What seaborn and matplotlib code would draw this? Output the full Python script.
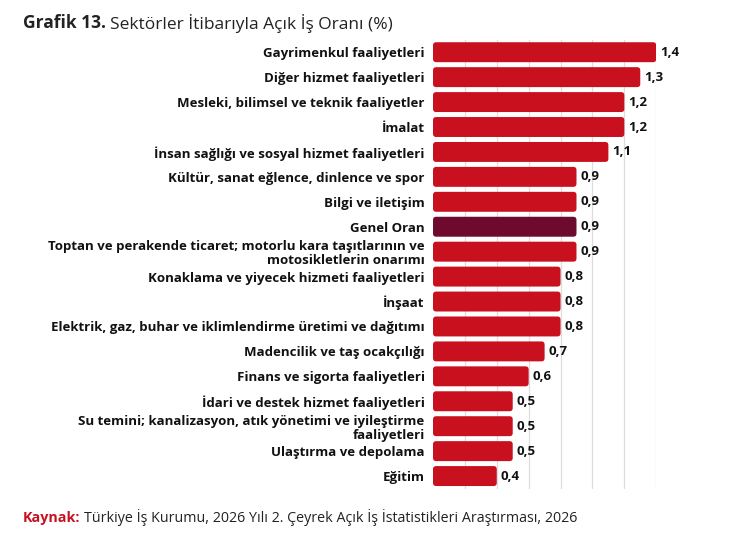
import numpy as np
import matplotlib
matplotlib.use("Agg")
import matplotlib.pyplot as plt
from matplotlib.patches import FancyBboxPatch
import seaborn as sns
import pandas as pd

sectors = [
    "Gayrimenkul faaliyetleri",
    "Diğer hizmet faaliyetleri",
    "Mesleki, bilimsel ve teknik faaliyetler",
    "İmalat",
    "İnsan sağlığı ve sosyal hizmet faaliyetleri",
    "Kültür, sanat eğlence, dinlence ve spor",
    "Bilgi ve iletişim",
    "Genel Oran",
    "Toptan ve perakende ticaret; motorlu kara taşıtlarının ve\nmotosikletlerin onarımı",
    "Konaklama ve yiyecek hizmeti faaliyetleri",
    "İnşaat",
    "Elektrik, gaz, buhar ve iklimlendirme üretimi ve dağıtımı",
    "Madencilik ve taş ocakçılığı",
    "Finans ve sigorta faaliyetleri",
    "İdari ve destek hizmet faaliyetleri",
    "Su temini; kanalizasyon, atık yönetimi ve iyileştirme\nfaaliyetleri",
    "Ulaştırma ve depolama",
    "Eğitim",
]
rates = [1.4, 1.3, 1.2, 1.2, 1.1, 0.9, 0.9, 0.9, 0.9, 0.8, 0.8, 0.8, 0.7, 0.6, 0.5, 0.5, 0.5, 0.4]

RED = "#C8101E"
DARK = "#6E0A2E"
FONT = ["Open Sans", "DejaVu Sans"]

df = pd.DataFrame({"sector": sectors, "rate": rates})
palette = {s: (DARK if s == "Genel Oran" else RED) for s in sectors}

sns.set_style("white")
plt.rcParams["font.family"] = FONT

fig = plt.figure(figsize=(7.44, 5.52), dpi=100)
ax = fig.add_axes([0.582, 0.115, 0.300, 0.813])

sns.barplot(data=df, y="sector", x="rate", hue="sector", palette=palette,
            dodge=False, legend=False, width=0.8, saturation=1, linewidth=0,
            ax=ax, zorder=3)

ax.set_xlim(0, 1.4)
ax.set_xticks(np.arange(0.2, 1.41, 0.2))
ax.xaxis.grid(True, color="#DDDDDD", linewidth=0.9, zorder=0)
ax.set_axisbelow(True)
ax.tick_params(axis="x", length=0, labelbottom=False)
ax.tick_params(axis="y", length=0, pad=6)
for s in ax.spines.values():
    s.set_visible(False)
ax.set_xlabel("")
ax.set_ylabel("")

# rounded bar corners
fig.canvas.draw()
bb = ax.get_window_extent()
x_px = bb.width / (ax.get_xlim()[1] - ax.get_xlim()[0])
y_px = bb.height / abs(ax.get_ylim()[1] - ax.get_ylim()[0])
aspect = x_px / y_px
for p in list(ax.patches):
    x, y = p.get_x(), p.get_y()
    w, h = p.get_width(), p.get_height()
    fb = FancyBboxPatch((x, y), w, h, boxstyle="round,pad=0,rounding_size=0.02",
                        mutation_aspect=aspect, facecolor=p.get_facecolor(),
                        edgecolor="none", zorder=3)
    p.remove()
    ax.add_patch(fb)

for lbl in ax.get_yticklabels():
    lbl.set_fontweight("bold")
    lbl.set_fontsize(9.5)
    lbl.set_color("#111111")
    lbl.set_linespacing(1.1)
    lbl.set_multialignment("right")

for i, v in enumerate(rates):
    ax.text(v + 0.025, i, f"{v:.1f}".replace(".", ","), va="center", ha="left",
            fontsize=9.5, fontweight="bold", color="#111111", clip_on=False)

t1 = fig.text(0.031, 0.958, "Grafik 13.", fontsize=12.5, fontweight="bold",
              color="#222222", va="center")
fig.canvas.draw()
e = t1.get_window_extent()
fig.text((e.x1 + 4) / fig.bbox.width, 0.958, "Sektörler İtibarıyla Açık İş Oranı (%)",
         fontsize=12.5, color="#222222", va="center")

k1 = fig.text(0.031, 0.062, "Kaynak:", fontsize=10.3, fontweight="bold", color=RED, va="center")
fig.canvas.draw()
e = k1.get_window_extent()
fig.text((e.x1 + 3) / fig.bbox.width, 0.062,
         "Türkiye İş Kurumu, 2026 Yılı 2. Çeyrek Açık İş İstatistikleri Araştırması, 2026",
         fontsize=10.3, color="#222222", va="center")

fig.savefig("out.png", dpi=100)
